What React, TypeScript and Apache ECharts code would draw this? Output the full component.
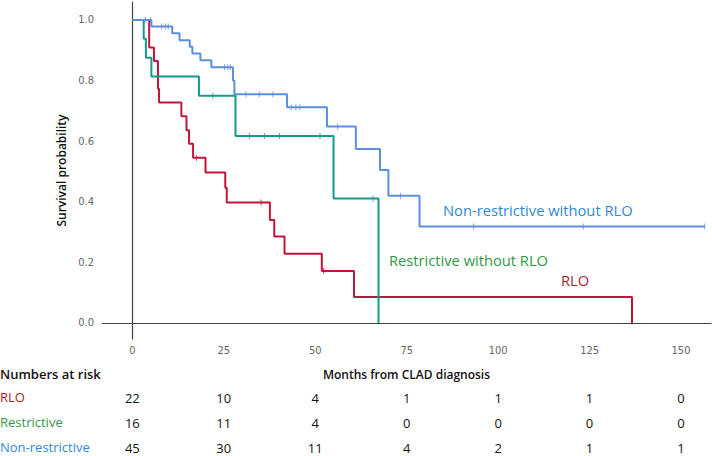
import React, { useEffect, useRef } from "react";
import * as echarts from "echarts";

// Kaplan–Meier steps: [month, survival after the event]
const rloSteps: [number, number][] = [
  [0, 1], [4.6, 0.909], [5.9, 0.864], [7.0, 0.773], [7.3, 0.727], [13.4, 0.682],
  [14.8, 0.636], [15.5, 0.591], [16.6, 0.545], [20.0, 0.496], [25.4, 0.446],
  [25.8, 0.397], [37.6, 0.34], [38.8, 0.285], [41.6, 0.228], [51.8, 0.171],
  [60.6, 0.086], [136.6, 0],
];
const rloCensored: [number, number][] = [
  [17.5, 0.545], [35.2, 0.397], [52.3, 0.171],
];

const restrictiveSteps: [number, number][] = [
  [0, 1], [3.1, 0.938], [3.7, 0.875], [5.2, 0.813], [18.2, 0.75], [28.2, 0.617],
  [55.0, 0.411], [67.3, 0],
];
const restrictiveCensored: [number, number][] = [
  [22.0, 0.75], [32.0, 0.617], [36.1, 0.617], [40.2, 0.617], [51.3, 0.617], [65.8, 0.411],
];

const nonRestrictiveSteps: [number, number][] = [
  [0, 1], [5.2, 0.978], [10.9, 0.956], [12.9, 0.933], [15.7, 0.911], [16.4, 0.889],
  [18.6, 0.867], [21.6, 0.844], [27.5, 0.8], [27.9, 0.755], [42.3, 0.712],
  [53.2, 0.648], [61.1, 0.574], [67.7, 0.505], [70.0, 0.42], [78.5, 0.318],
  [156.5, 0.318],
];
const nonRestrictiveCensored: [number, number][] = [
  [3.5, 1], [5.0, 1], [8.0, 0.978], [9.0, 0.978], [9.8, 0.978], [25.2, 0.844],
  [26.1, 0.844], [26.8, 0.844], [31.1, 0.755], [34.7, 0.755], [38.4, 0.755],
  [43.4, 0.712], [44.7, 0.712], [45.8, 0.712], [56.1, 0.648], [73.3, 0.42],
  [93.3, 0.318], [123.3, 0.318], [156.5, 0.318],
];

// Time ticks and numbers at risk at each tick
const timeTicks = [0, 25, 50, 75, 100, 125, 150];
const survTicks = [0, 0.2, 0.4, 0.6, 0.8, 1.0];
const riskRLO = [22, 10, 4, 1, 1, 1, 0];
const riskRestrictive = [16, 11, 4, 0, 0, 0, 0];
const riskNonRestrictive = [45, 30, 11, 4, 2, 1, 1];

const RED = "#c0163b";
const GREEN = "#16998a";
const BLUE = "#5d8fdc";
const RED_TXT = "#a81f2f";
const GREEN_TXT = "#2f9a45";
const BLUE_TXT = "#2f8ad4";

const TEXT_FONT = "'Open Sans', 'Noto Sans', sans-serif";
const TICK_FONT = "'Liberation Sans Narrow', 'DejaVu Sans Condensed', 'Liberation Sans', sans-serif";

const X_MIN = -8.3;
const X_MAX = 158.2;

export default function App() {
  const ref = useRef<HTMLDivElement>(null);

  useEffect(() => {
    if (!ref.current) return;
    const chart = echarts.init(ref.current, undefined, { renderer: "svg" });

    const riskAxis = (values: number[], offset: number) => ({
      type: "value" as const,
      gridIndex: 0,
      position: "bottom" as const,
      offset,
      min: X_MIN,
      max: X_MAX,
      axisLine: { show: false },
      axisTick: { show: false },
      splitLine: { show: false },
      axisLabel: {
        customValues: timeTicks,
        formatter: (v: number) => {
          const i = timeTicks.indexOf(Math.round(v));
          return i >= 0 ? String(values[i]) : "";
        },
        color: "#111",
        fontFamily: TEXT_FONT,
        fontSize: 13,
        margin: 0,
        verticalAlign: "middle" as const,
      },
    });

    const stepSeries = (name: string, data: [number, number][], color: string) => ({
      name,
      type: "line" as const,
      step: "end" as const,
      data,
      symbol: "none",
      lineStyle: { color, width: 2 },
      z: 3,
    });

    const censorSeries = (name: string, data: [number, number][], color: string) => ({
      name,
      type: "scatter" as const,
      data,
      symbol: "rect",
      symbolSize: [1, 6],
      itemStyle: { color },
      z: 4,
    });

    chart.setOption({
      animation: false,
      backgroundColor: "#ffffff",
      grid: { left: 102, right: 1, top: 2, bottom: 117 },
      xAxis: [
        {
          type: "value",
          min: X_MIN,
          max: X_MAX,
          name: "Months from CLAD diagnosis",
          nameLocation: "middle",
          nameGap: 29,
          nameTextStyle: {
            fontFamily: TEXT_FONT,
            fontWeight: 600,
            fontSize: 12,
            color: "#111",
          },
          axisLine: { show: true, lineStyle: { color: "#444", width: 1.2 } },
          axisTick: { show: false },
          splitLine: { show: false },
          axisLabel: {
            customValues: timeTicks,
            color: "#666",
            fontFamily: TICK_FONT,
            fontSize: 11,
            margin: 6,
          },
        },
        riskAxis(riskRLO, 59),
        riskAxis(riskRestrictive, 84),
        riskAxis(riskNonRestrictive, 109),
      ],
      yAxis: {
        type: "value",
        min: -0.053,
        max: 1.059,
        name: "Survival probability",
        nameLocation: "middle",
        nameGap: 34,
        nameTextStyle: {
          fontFamily: TEXT_FONT,
          fontWeight: 600,
          fontSize: 12,
          color: "#111",
        },
        axisLine: { show: true, lineStyle: { color: "#444", width: 1.2 } },
        axisTick: { show: false },
        splitLine: { show: false },
        axisLabel: {
          customValues: survTicks,
          formatter: (v: number) => v.toFixed(1),
          color: "#666",
          fontFamily: TICK_FONT,
          fontSize: 11,
          margin: 8,
        },
      },
      series: [
        stepSeries("RLO", rloSteps, RED),
        stepSeries("Restrictive without RLO", restrictiveSteps, GREEN),
        stepSeries("Non-restrictive without RLO", nonRestrictiveSteps, BLUE),
        censorSeries("RLO censored", rloCensored, RED),
        censorSeries("Restrictive censored", restrictiveCensored, GREEN),
        censorSeries("Non-restrictive censored", nonRestrictiveCensored, BLUE),
      ],
      graphic: [
        {
          type: "text",
          left: 443,
          top: 202,
          style: { text: "Non-restrictive without RLO", fill: BLUE_TXT, font: `14.7px ${TEXT_FONT}` },
        },
        {
          type: "text",
          left: 389,
          top: 252,
          style: { text: "Restrictive without RLO", fill: GREEN_TXT, font: `14.7px ${TEXT_FONT}` },
        },
        {
          type: "text",
          left: 561,
          top: 272,
          style: { text: "RLO", fill: RED_TXT, font: `14.7px ${TEXT_FONT}` },
        },
        {
          type: "text",
          left: 0,
          top: 367,
          style: { text: "Numbers at risk", fill: "#111", font: `600 13px ${TEXT_FONT}` },
        },
        {
          type: "text",
          left: 0,
          top: 390,
          style: { text: "RLO", fill: RED_TXT, font: `13px ${TEXT_FONT}` },
        },
        {
          type: "text",
          left: 0,
          top: 415,
          style: { text: "Restrictive", fill: GREEN_TXT, font: `13px ${TEXT_FONT}` },
        },
        {
          type: "text",
          left: 0,
          top: 440,
          style: { text: "Non-restrictive", fill: BLUE_TXT, font: `13px ${TEXT_FONT}` },
        },
      ],
    });

    return () => chart.dispose();
  }, []);

  return <div ref={ref} style={{ width: 712, height: 456, position: "fixed", left: 0, top: 0 }} />;
}
